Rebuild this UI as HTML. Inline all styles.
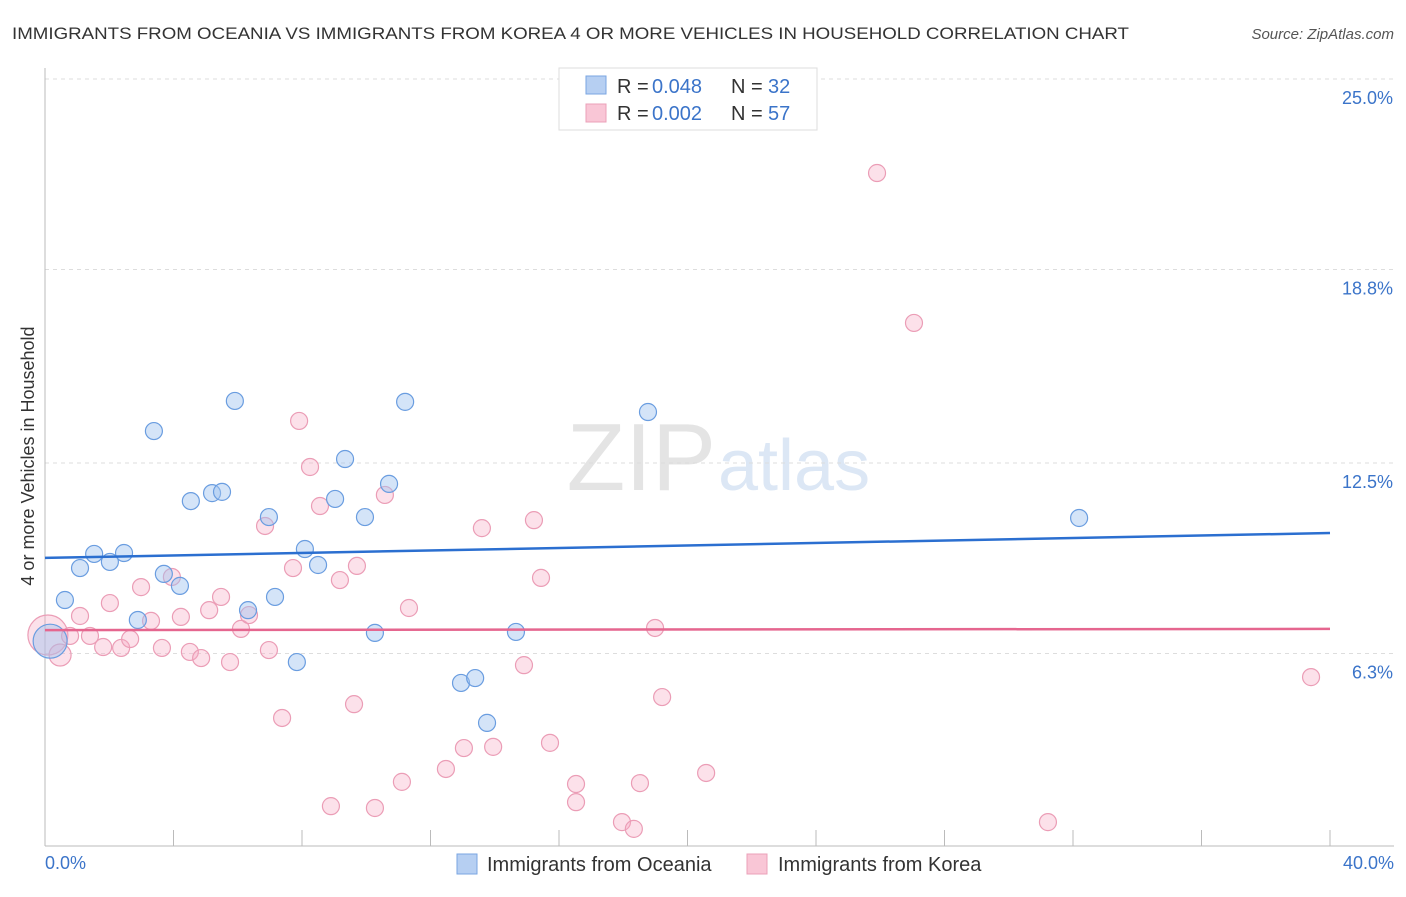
<!DOCTYPE html>
<html><head><meta charset="utf-8"><style>
body{margin:0;background:#fff;font-family:"Liberation Sans",sans-serif}
svg text{font-family:"Liberation Sans",sans-serif}
</style></head><body>
<svg id="chart" width="1406" height="892">
<text x="12" y="39" font-size="17" fill="#333" textLength="1117" lengthAdjust="spacingAndGlyphs">IMMIGRANTS FROM OCEANIA VS IMMIGRANTS FROM KOREA 4 OR MORE VEHICLES IN HOUSEHOLD CORRELATION CHART</text>
<text x="1394" y="39" font-size="15" fill="#555" text-anchor="end" font-style="italic">Source: ZipAtlas.com</text>
<text x="716" y="490" font-size="96" fill="#e4e4e4" text-anchor="end" font-family="Liberation Serif">ZIP</text>
<text x="718" y="490" font-size="72" fill="#dce7f5">atlas</text>
<g id="grid"></g>
<g id="axes"></g>
<g id="pts"></g>
<g id="lines"></g>
<text transform="translate(34,456) rotate(-90)" font-size="18" fill="#333" text-anchor="middle">4 or more Vehicles in Household</text>
<text x="45" y="869" font-size="18" fill="#3b74c9">0.0%</text>
<text x="1394" y="869" font-size="18" fill="#3b74c9" text-anchor="end">40.0%</text>
<g>
<rect x="559" y="68" width="258" height="62" fill="#fff" stroke="#ddd"/>
<rect x="586" y="76" width="20" height="18" fill="#b6cff2" stroke="#7aa6e2"/>
<rect x="586" y="104" width="20" height="18" fill="#f9c6d6" stroke="#eba0b8"/>
<text x="617" y="93" font-size="20" fill="#333">R =</text>
<text x="652" y="93" font-size="20" fill="#3b74c9">0.048</text>
<text x="731" y="93" font-size="20" fill="#333">N =</text>
<text x="768" y="93" font-size="20" fill="#3b74c9">32</text>
<text x="617" y="120" font-size="20" fill="#333">R =</text>
<text x="652" y="120" font-size="20" fill="#3b74c9">0.002</text>
<text x="731" y="120" font-size="20" fill="#333">N =</text>
<text x="768" y="120" font-size="20" fill="#3b74c9">57</text>
</g>
<g>
<rect x="457" y="854" width="20" height="20" fill="#b6cff2" stroke="#7aa6e2"/>
<text x="487" y="871" font-size="20" fill="#333">Immigrants from Oceania</text>
<rect x="747" y="854" width="20" height="20" fill="#f9c6d6" stroke="#eba0b8"/>
<text x="778" y="871" font-size="20" fill="#333">Immigrants from Korea</text>
</g>
</svg>
<script>
const yTicks=[25.0,18.8,12.5,6.3];
const yTickLabels=["25.0%","18.8%","12.5%","6.3%"];
const xTicks=[0,4,8,12,16,20,24,28,32,36,40];
const blueX=[0.62,1.09,1.53,2.02,2.46,2.89,3.39,3.70,4.20,4.54,5.20,5.51,5.91,6.32,6.97,7.16,7.84,8.09,8.50,9.03,9.34,9.96,10.27,10.71,11.21,12.95,13.39,13.76,14.66,18.77,32.19,0.16];
const blueY=[8.04,9.08,9.54,9.28,9.57,7.39,13.54,8.89,8.50,11.26,11.52,11.56,14.52,7.71,10.74,8.14,6.02,9.70,9.18,11.33,12.63,10.74,6.97,11.82,14.49,5.34,5.50,4.04,7.00,14.16,10.71,6.70];
const pinkX=[0.09,0.47,0.78,1.09,1.40,1.81,2.02,2.37,2.65,2.99,3.30,3.64,3.95,4.23,4.51,4.86,5.11,5.48,5.76,6.10,6.35,6.85,6.97,7.38,7.72,7.91,8.25,8.56,9.18,8.90,9.62,9.71,10.27,10.58,11.11,11.33,12.48,13.04,13.60,13.95,14.91,15.22,15.44,15.72,16.53,16.53,17.96,18.33,18.52,18.99,19.21,20.58,25.90,27.05,31.22,39.41,16.75];
const pinkY=[6.90,6.25,6.87,7.52,6.87,6.51,7.94,6.48,6.77,8.46,7.36,6.48,8.79,7.49,6.35,6.15,7.71,8.14,6.02,7.10,7.55,10.45,6.41,4.20,9.08,13.87,12.37,11.10,8.69,1.33,4.65,9.15,1.27,11.46,2.12,7.78,2.54,3.22,10.38,3.26,5.92,10.64,8.76,3.39,2.05,1.46,0.81,0.59,2.08,7.13,4.88,2.41,21.94,17.06,0.81,5.53,24.6];
const blueTrend=[9.41,10.22];
const pinkTrend=[7.06,7.10];
const X=v=>45+v*32.125, Y=v=>847-v*30.72;
const NS="http://www.w3.org/2000/svg";
function mk(tag,attrs,parent){const e=document.createElementNS(NS,tag);for(const k in attrs)e.setAttribute(k,attrs[k]);document.getElementById(parent).appendChild(e);return e;}
yTicks.forEach((t,i)=>{
 const l=mk('line',{x1:45,x2:1394,y1:Y(t),y2:Y(t),stroke:'#ddd','stroke-dasharray':'4,4'},'grid');
 
 
 const tx=mk('text',{x:1393,y:Y(t)+25,'font-size':18,fill:'#3b74c9','text-anchor':'end'},'grid');
 tx.textContent=yTickLabels[i];
 
 
});
let a=mk('line',{x1:45,x2:45,y1:68,y2:846,stroke:'#bbb'},'axes');


a=mk('line',{x1:45,x2:1394,y1:846,y2:846,stroke:'#bbb'},'axes');


xTicks.forEach(t=>{const l=mk('line',{x1:X(t),x2:X(t),y1:830,y2:846,stroke:'#bbb'},'axes');
 
 });
pinkX.forEach((v,i)=>{const r=i===0?20:(i===1?11:8.5);
 const c=mk('circle',{cx:X(v),cy:Y(pinkY[i]),r:r,fill:'rgba(245,170,195,0.35)',stroke:'#eb9db6','stroke-width':1.2},'pts');
 
 });
blueX.forEach((v,i)=>{const r=i===31?17:8.5;
 const c=mk('circle',{cx:X(v),cy:Y(blueY[i]),r:r,fill:'rgba(160,195,240,0.45)',stroke:'#6a9de0','stroke-width':1.2},'pts');
 
 });
let tl=mk('line',{x1:X(0),x2:X(40),y1:Y(blueTrend[0]),y2:Y(blueTrend[1]),stroke:'#2b6fd0','stroke-width':2.5},'lines');


tl=mk('line',{x1:X(0),x2:X(40),y1:Y(pinkTrend[0]),y2:Y(pinkTrend[1]),stroke:'#e5668f','stroke-width':2.5},'lines');


</script>
</body></html>
